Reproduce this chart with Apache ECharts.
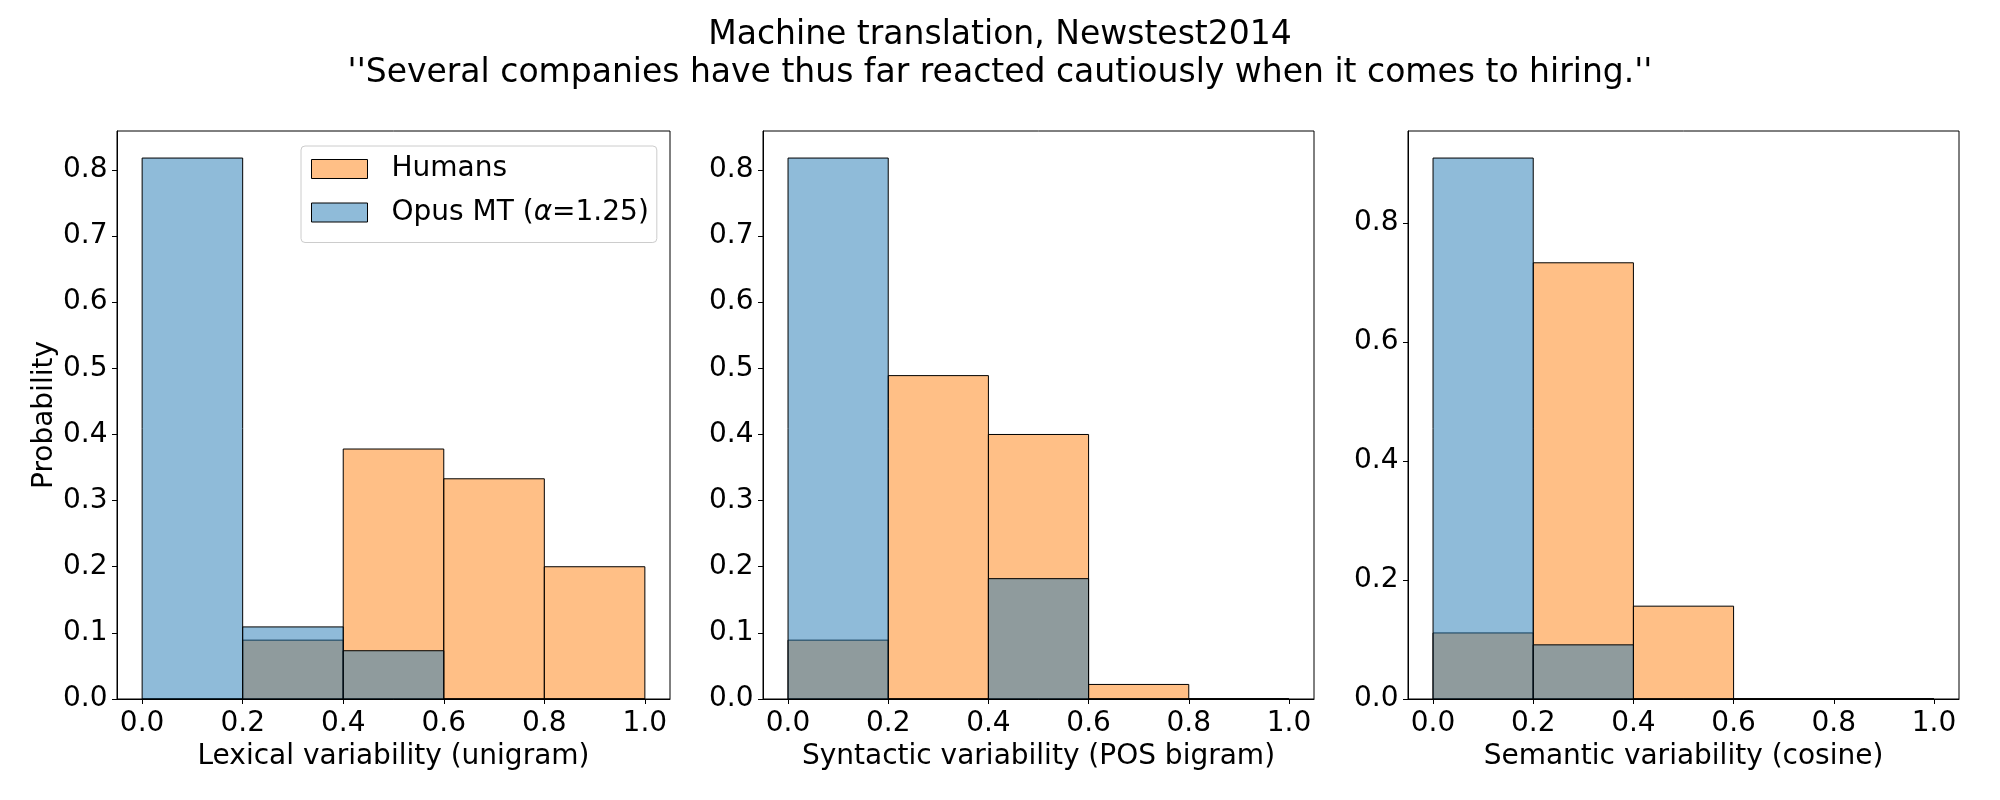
<!DOCTYPE html>
<html>
<head>
<meta charset="utf-8">
<script src="https://cdn.jsdelivr.net/npm/echarts@6/dist/echarts.min.js"></script>
<style>
html,body{margin:0;padding:0;background:#fff;}
#chart{width:2000px;height:800px;}
</style>
</head>
<body>
<div id="chart"></div>
<script>
// ---- data ----
const titleLines = ["Machine translation, Newstest2014", "''Several companies have thus far reacted cautiously when it comes to hiring.''"];
const seriesNames = ["Humans", "Opus MT (α=1.25)"];
const binEdges = [0, 0.2, 0.4, 0.6, 0.8, 1.0];
const xTicks = [0, 0.2, 0.4, 0.6, 0.8, 1.0];
const xLabels = ["Lexical variability (unigram)", "Syntactic variability (POS bigram)", "Semantic variability (cosine)"];
const yLabel = "Probability";
const humansLexical   = [0.000, 0.089, 0.378, 0.333, 0.200];
const opusLexical     = [0.818, 0.109, 0.073, 0.000, 0.000];
const humansSyntactic = [0.089, 0.489, 0.400, 0.022, 0.000];
const opusSyntactic   = [0.818, 0.000, 0.182, 0.000, 0.000];
const humansSemantic  = [0.111, 0.733, 0.156, 0.000, 0.000];
const opusSemantic    = [0.909, 0.091, 0.000, 0.000, 0.000];
const yIntervals = [0.1, 0.1, 0.2];

// ---- build ----
const FONT = "DejaVu Sans";
const FS = 28;
const humansSets = [humansLexical, humansSyntactic, humansSemantic];
const opusSets = [opusLexical, opusSyntactic, opusSemantic];
const grids = [
  {left: 117, width: 553, top: 131, height: 568},
  {left: 763, width: 551, top: 131, height: 568},
  {left: 1408, width: 551, top: 131, height: 568}
];
const fillHumans = 'rgba(255,127,14,0.5)';
const fillOpus = 'rgba(31,119,180,0.5)';

function binData(vals) {
  return vals.map((v, i) => [binEdges[i], binEdges[i + 1], v]);
}
function makeRender(fill) {
  return function (params, api) {
    const p0 = api.coord([api.value(0), api.value(2)]);
    const p1 = api.coord([api.value(1), 0]);
    return {
      type: 'rect',
      shape: {x: p0[0], y: p0[1], width: p1[0] - p0[0], height: p1[1] - p0[1]},
      style: {fill: fill, stroke: '#000', lineWidth: 1}
    };
  };
}

const option = {
  backgroundColor: '#fff',
  animation: false,
  title: {
    text: titleLines.join('\n'),
    left: 'center',
    top: 11,
    textStyle: {fontFamily: FONT, fontSize: 33, fontWeight: 'normal', color: '#000', lineHeight: 38.5}
  },
  legend: {
    left: 301, top: 146,
    orient: 'vertical',
    padding: [9, 8, 16, 10],
    itemGap: 15.5,
    itemWidth: 56, itemHeight: 19,
    borderColor: '#cccccc', borderWidth: 1, borderRadius: 4,
    backgroundColor: 'rgba(255,255,255,0.8)',
    textStyle: {fontFamily: FONT, fontSize: FS, color: '#000', padding: [0, 0, 0, 19], lineHeight: 28,
      rich: {i: {fontFamily: FONT, fontSize: FS, fontStyle: 'italic', color: '#000', lineHeight: 28}}},
    formatter: function (name) { return name === seriesNames[1] ? 'Opus MT ({i|α}=1.25)' : name; },
    data: [
      {name: seriesNames[0], icon: 'rect', itemStyle: {color: fillHumans, borderColor: '#000', borderWidth: 1}},
      {name: seriesNames[1], icon: 'rect', itemStyle: {color: fillOpus, borderColor: '#000', borderWidth: 1}}
    ]
  },
  grid: grids.map(g => Object.assign({show: true, borderColor: '#000', borderWidth: 1, backgroundColor: 'transparent', containLabel: false}, g)),
  xAxis: grids.map((g, i) => ({
    type: 'value', gridIndex: i, min: -0.05, max: 1.05,
    name: xLabels[i], nameLocation: 'middle', nameGap: 43,
    nameTextStyle: {fontFamily: FONT, fontSize: FS, color: '#000'},
    axisLine: {show: true, onZero: false, lineStyle: {color: '#000', width: 1}},
    axisTick: {show: true, length: 5, lineStyle: {color: '#000', width: 1}, customValues: xTicks},
    axisLabel: {fontFamily: FONT, fontSize: FS, color: '#000', margin: 11, customValues: xTicks,
      formatter: v => v.toFixed(1)},
    splitLine: {show: false}
  })),
  yAxis: grids.map((g, i) => ({
    type: 'value', gridIndex: i, min: 0,
    max: Math.max(...humansSets[i], ...opusSets[i]) * 1.05,
    interval: yIntervals[i],
    name: i === 0 ? yLabel : '', nameLocation: 'middle', nameGap: 58,
    nameTextStyle: {fontFamily: FONT, fontSize: FS, color: '#000'},
    axisLine: {show: true, onZero: false, lineStyle: {color: '#000', width: 1}},
    axisTick: {show: true, length: 5, lineStyle: {color: '#000', width: 1}},
    axisLabel: {fontFamily: FONT, fontSize: FS, color: '#000', margin: 9.5, showMaxLabel: false,
      formatter: v => v.toFixed(1)},
    splitLine: {show: false}
  })),
  series: []
};

for (let i = 0; i < 3; i++) {
  option.series.push({
    type: 'custom', name: seriesNames[0], xAxisIndex: i, yAxisIndex: i,
    renderItem: makeRender(fillHumans), itemStyle: {color: fillHumans},
    encode: {x: [0, 1], y: 2},
    data: binData(humansSets[i]), z: 2
  });
  option.series.push({
    type: 'custom', name: seriesNames[1], xAxisIndex: i, yAxisIndex: i,
    renderItem: makeRender(fillOpus), itemStyle: {color: fillOpus},
    encode: {x: [0, 1], y: 2},
    data: binData(opusSets[i]), z: 3
  });
}

const chart = echarts.init(document.getElementById('chart'), null, {renderer: 'canvas'});
chart.setOption(option);
</script>
</body>
</html>
